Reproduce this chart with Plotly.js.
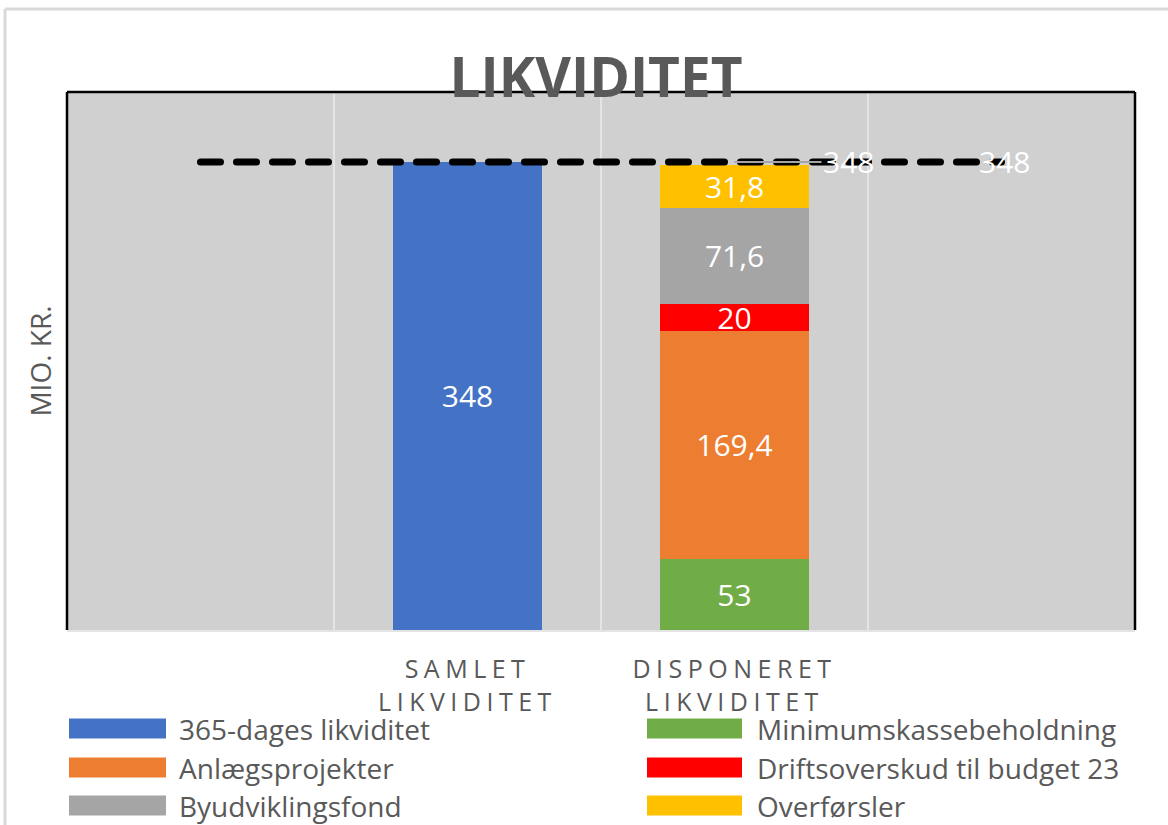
<!DOCTYPE html>
<html><head><meta charset="utf-8">
<script src="https://cdn.plot.ly/plotly-3.0.1.min.js"></script>
<style>
html,body{margin:0;padding:0;background:#fff;}
#chart .xtick text{letter-spacing:5.5px;}
#chart .scatterlayer .js-line{stroke-linecap:round;}
</style></head><body>
<div id="chart" style="width:1168px;height:825px;"></div>
<script>
// ---- data ----
const categories = ['', 'SAMLET<br>LIKVIDITET', 'DISPONERET<br>LIKVIDITET', ''];
const totalName = '365-dages likviditet';
const totalValue = 348;
const totalColor = '#4472C4';
const stackNames = ['Minimumskassebeholdning', 'Anlægsprojekter', 'Driftsoverskud til budget 23', 'Byudviklingsfond', 'Overførsler'];
const stackValues = [53, 169.4, 20, 71.6, 31.8];
const stackColors = ['#70AD47', '#ED7D31', '#FF0000', '#A5A5A5', '#FFC000'];
const lineValues = [348, 348, 348, 348];
const legendLeft = ['365-dages likviditet', 'Anlægsprojekter', 'Byudviklingsfond'];
const legendRight = ['Minimumskassebeholdning', 'Driftsoverskud til budget 23', 'Overførsler'];

// ---- helpers ----
const catIndex = categories.map((c, i) => i);
const fmt = v => String(v).replace('.', ',');
const W = 1168, H = 825, ML = 67, MR = 33, MT = 92, MB = 195;
const PW = W - ML - MR, PH = H - MT - MB;
const px = x => (x - ML) / PW;
const py = y => (H - MB - y) / PH;
const FONT = 'Open Sans, Noto Sans, sans-serif';
const GREY = '#595959';

const labelFont = {family: FONT, size: 30, color: '#FFFFFF'};
const traces = [];
traces.push({
  type: 'bar', name: totalName, x: [catIndex[1]], y: [totalValue],
  text: [fmt(totalValue)], textposition: 'inside', insidetextanchor: 'middle',
  textangle: 0, constraintext: 'none', textfont: labelFont,
  marker: {color: totalColor}, showlegend: false, hoverinfo: 'skip'
});
stackNames.forEach((n, i) => {
  traces.push({
    type: 'bar', name: n, x: [catIndex[2]], y: [stackValues[i]],
    text: [fmt(stackValues[i])], textposition: 'inside', insidetextanchor: 'middle',
    textangle: 0, constraintext: 'none', textfont: labelFont,
    marker: {color: stackColors[i]}, showlegend: false, hoverinfo: 'skip'
  });
});
traces.push({
  type: 'scatter', mode: 'lines', x: catIndex, y: lineValues,
  line: {color: '#000000', width: 7, dash: '20px,16px'},
  showlegend: false, hoverinfo: 'skip'
});

const colorOf = n => n === totalName ? totalColor : stackColors[stackNames.indexOf(n)];
const shapes = [
  {type: 'line', xref: 'paper', yref: 'paper', x0: px(5), x1: px(5), y0: py(9), y1: py(H), line: {color: '#D9D9D9', width: 3}},
  {type: 'line', xref: 'paper', yref: 'paper', x0: px(5), x1: px(W), y0: py(9), y1: py(9), line: {color: '#D9D9D9', width: 3}},
  {type: 'line', xref: 'paper', yref: 'paper', x0: 0, x1: 0, y0: 0, y1: 1, line: {color: '#000', width: 2.5}},
  {type: 'line', xref: 'paper', yref: 'paper', x0: 0, x1: 1, y0: 1, y1: 1, line: {color: '#000', width: 2.5}},
  {type: 'line', xref: 'paper', yref: 'paper', x0: 1, x1: 1, y0: 0, y1: 1, line: {color: '#000', width: 2.5}}
];
const annotations = [];
const rowsY = [728.5, 767.5, 805.5];
[[legendLeft, 69, 166, 177], [legendRight, 647, 742, 755]].forEach(([names, sx0, sx1, tx]) => {
  names.forEach((n, r) => {
    shapes.push({type: 'rect', xref: 'paper', yref: 'paper', x0: px(sx0), x1: px(sx1),
      y0: py(rowsY[r] + 10), y1: py(rowsY[r] - 10), fillcolor: colorOf(n), line: {width: 0}});
    annotations.push({xref: 'paper', yref: 'paper', x: px(tx), y: py(rowsY[r]), xanchor: 'left', yanchor: 'middle',
      text: n, showarrow: false, font: {family: FONT, size: 28, color: GREY}});
  });
});
annotations.push({x: catIndex[2], y: lineValues[2], text: fmt(lineValues[2]), showarrow: true,
  ax: 114, ay: 0, arrowhead: 0, arrowwidth: 2, arrowcolor: '#A5A5A5', standoff: 0,
  font: {family: FONT, size: 30, color: '#FFFFFF'}});
annotations.push({x: catIndex[3], y: lineValues[3], text: fmt(lineValues[3]), showarrow: false,
  xshift: 3, font: {family: FONT, size: 30, color: '#FFFFFF'}});

const layout = {
  width: W, height: H,
  margin: {l: ML, r: MR, t: MT, b: MB, pad: 0},
  paper_bgcolor: '#FFFFFF', plot_bgcolor: '#D0D0D0',
  barmode: 'stack', bargap: 0.44,
  showlegend: false,
  title: {text: '<b>LIKVIDITET</b>', font: {family: FONT, size: 55, color: GREY},
    xref: 'container', yref: 'container', x: 596 / W, y: 1 - 78 / H, xanchor: 'center', yanchor: 'middle'},
  xaxis: {type: 'linear', range: [-0.5, categories.length - 0.5],
    tickmode: 'array', tickvals: catIndex, ticktext: categories,
    showgrid: false,
    minor: {tick0: 0.5, dtick: 1, showgrid: true, gridcolor: '#E4E4E4', gridwidth: 2, ticks: ''},
    ticks: '', ticklabelstandoff: 16, tickfont: {family: FONT, size: 25, color: GREY},
    showline: true, linecolor: '#E4E4E4', linewidth: 2, zeroline: false, fixedrange: true},
  yaxis: {range: [0, 400], showticklabels: false, showgrid: false, zeroline: false, ticks: '',
    title: {text: 'MIO. KR.', standoff: 6, font: {family: FONT, size: 28, color: GREY}}, fixedrange: true},
  shapes: shapes, annotations: annotations,
  font: {family: FONT}
};
Plotly.newPlot('chart', traces, layout, {displayModeBar: false, staticPlot: true});
</script>
</body></html>
